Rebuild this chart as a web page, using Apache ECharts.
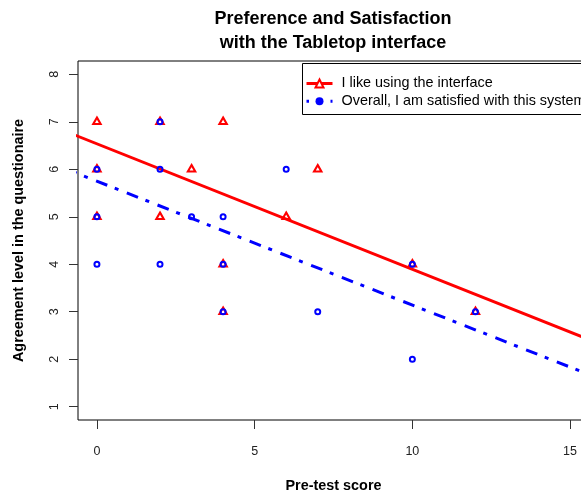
<!DOCTYPE html>
<html>
<head>
<meta charset="utf-8">
<script src="https://cdn.jsdelivr.net/npm/echarts@6/dist/echarts.min.js"></script>
<style>html,body{margin:0;padding:0;background:#fff;}#c{width:581px;height:491px;}</style>
</head>
<body>
<div id="c"></div>
<script>
// ---- data ----
const titleText = 'Preference and Satisfaction\nwith the Tabletop interface';
const xTitle = 'Pre-test score';
const yTitle = 'Agreement level in the questionaire';
const seriesNames = ['I like using the interface', 'Overall, I am satisfied with this system'];
const xTicks = [0, 5, 10, 15];
const yTicks = [1, 2, 3, 4, 5, 6, 7, 8];

// "I like using the interface" (red triangles)
const prefX = [0, 2, 4, 0, 3, 0, 2, 6, 7, 4, 4, 10, 12];
const prefY = [7, 7, 7, 6, 6, 5, 5, 5, 6, 4, 3, 4, 3];
// "Overall, I am satisfied with this system" (blue circles)
const satX = [2, 0, 2, 6, 0, 3, 4, 0, 2, 4, 4, 7, 10, 10, 12];
const satY = [7, 6, 6, 6, 5, 5, 5, 4, 4, 4, 3, 3, 4, 2, 3];
// fitted lines (end points)
const prefFitX = [-1, 16];
const prefFitY = [6.80, 2.31];
const satFitX = [-1, 16];
const satFitY = [6.01, 1.574];

const pairs = (xs, ys) => xs.map((x, i) => [x, ys[i]]);
const FONT = '"Liberation Sans", Arial, Helvetica, sans-serif';

const chart = echarts.init(document.getElementById('c'), null, {renderer: 'canvas'});
chart.setOption({
  animation: false,
  backgroundColor: '#fff',
  textStyle: {fontFamily: FONT},
  title: {
    text: titleText,
    left: 333, top: 7, textAlign: 'center', padding: 0,
    textStyle: {fontSize: 18, fontWeight: 'bold', color: '#000', lineHeight: 24, fontFamily: FONT}
  },
  grid: {
    left: 78, top: 61, right: -8, bottom: 71,
    outerBoundsMode: 'none', containLabel: false,
    show: true, borderColor: '#000', borderWidth: 1, backgroundColor: 'transparent'
  },
  graphic: [{
    // legend frame (extends past the right edge like the reference)
    type: 'rect', z: 90, silent: true,
    shape: {x: 302.5, y: 63.5, width: 320, height: 51},
    style: {fill: '#fff', stroke: '#000', lineWidth: 1}
  }],
  legend: {
    orient: 'vertical', left: 302, top: 63, z: 100,
    padding: [12, 30, 4, 3],
    itemWidth: 26, itemHeight: 10, itemGap: 0.7,
    backgroundColor: 'transparent', borderWidth: 0,
    selectedMode: false,
    formatter: n => ' ' + n,
    textStyle: {fontSize: 14.4, color: '#000', lineHeight: 17, fontFamily: FONT},
    data: [
      {name: seriesNames[0], lineStyle: {width: 3, color: '#ff0000', type: 'solid'},
       itemStyle: {color: '#fff', borderColor: '#ff0000', borderWidth: 2}},
      {name: seriesNames[1], lineStyle: {width: 3, color: '#0000ff', type: [2.5, 9.5]},
       itemStyle: {color: '#0000ff', borderWidth: 0}}
    ]
  },
  xAxis: {
    type: 'value', min: -0.6, max: 15.6,
    name: xTitle, nameLocation: 'middle', nameGap: 59,
    nameTextStyle: {fontSize: 14.4, fontWeight: 'bold', color: '#000', fontFamily: FONT},
    axisLine: {show: false, onZero: false},
    splitLine: {show: false},
    axisTick: {show: true, inside: false, length: 9, customValues: xTicks, lineStyle: {color: '#333', width: 1}},
    axisLabel: {show: true, customValues: xTicks, margin: 25, fontSize: 12.5, color: '#222', fontFamily: FONT}
  },
  yAxis: {
    type: 'value', min: 0.72, max: 8.28,
    name: yTitle, nameLocation: 'middle', nameGap: 52, nameRotate: 90,
    nameTextStyle: {fontSize: 14.4, fontWeight: 'bold', color: '#000', fontFamily: FONT},
    axisLine: {show: false, onZero: false},
    splitLine: {show: false},
    axisTick: {show: true, inside: false, length: 9, customValues: yTicks, lineStyle: {color: '#333', width: 1}},
    axisLabel: {show: true, customValues: yTicks, rotate: 90, margin: 17, fontSize: 12.5, color: '#222', fontFamily: FONT}
  },
  series: [
    {
      name: seriesNames[0], type: 'line', data: pairs(prefFitX, prefFitY),
      symbol: 'triangle', showSymbol: false, clip: true, silent: true, z: 2,
      itemStyle: {color: '#ff0000'},
      lineStyle: {color: '#ff0000', width: 3, type: 'solid'}
    },
    {
      name: seriesNames[1], type: 'line', data: pairs(satFitX, satFitY),
      symbol: 'circle', showSymbol: false, clip: true, silent: true, z: 2,
      itemStyle: {color: '#0000ff'},
      lineStyle: {color: '#0000ff', width: 3, type: [12, 8, 4, 9], cap: 'butt'}
    },
    {
      name: 'pref-points', type: 'scatter', data: pairs(prefX, prefY),
      symbol: 'triangle', symbolSize: [7.5, 6.5], symbolOffset: [0, -1], z: 3,
      itemStyle: {color: 'rgba(0,0,0,0)', borderColor: '#ff0000', borderWidth: 2, opacity: 1}
    },
    {
      name: 'sat-points', type: 'scatter', data: pairs(satX, satY),
      symbol: 'circle', symbolSize: 5, z: 4,
      itemStyle: {color: 'rgba(0,0,0,0)', borderColor: '#0000ff', borderWidth: 2, opacity: 1}
    }
  ]
});
</script>
</body>
</html>
